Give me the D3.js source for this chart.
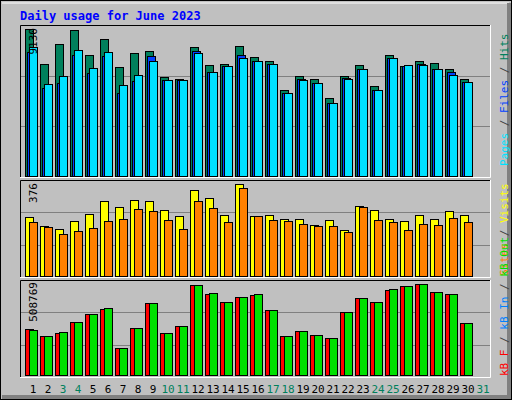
<!DOCTYPE html><html><head><meta charset="utf-8">
<script src="https://cdn.jsdelivr.net/npm/d3@7"></script>
<style>body{margin:0;background:#fff}</style></head><body><svg id="c" width="512" height="400"></svg>
<script>
const days=d3.range(1,32);
const weekend=[3,4,10,11,17,18,24,25,31];
const hits=[9130,6956,8199,9068,7515,8509,6770,7640,7764,6149,6025,8012,6894,6956,8074,7391,7143,5341,6211,6025,4845,6211,6894,5590,7515,6832,7143,7018,6646,6025];
const files=[7702,5466,5776,7515,6397,7453,5155,5900,7453,5963,5963,7764,6459,6832,7515,7143,6956,5155,6025,5776,4534,6087,6646,5341,7329,6832,6956,6646,6459,5838];
const pages=[8012,5714,6211,7826,6708,7702,5652,6273,7143,5963,5963,7640,6459,6832,7329,7143,6956,5155,5963,5776,4534,6025,6646,5341,7329,6894,6894,6646,6273,5838];
const visits=[241,204,192,225,253,307,282,311,307,270,245,351,319,249,376,245,249,233,233,208,229,188,286,270,233,225,249,233,266,249];
const sites=[221,200,172,184,196,225,233,274,266,229,192,307,278,221,360,245,229,225,213,204,204,180,282,229,221,188,213,208,237,221];
const kbF=[258095,217246,233957,297088,339794,367646,150401,261809,401069,233957,272950,501336,453059,406640,434491,445632,362076,217246,245098,222816,206105,352792,428921,406640,473484,495766,508769,462343,451202,289661];
const kbOut=[250668,217246,239527,297088,339794,373216,150401,261809,401069,233957,272950,501336,456773,406640,434491,451202,362076,217246,245098,222816,206105,352792,428921,406640,479054,495766,508769,462343,451202,289661];
const svg=d3.select("#c");
const mono="'DejaVu Sans Mono',monospace";
svg.append("rect").attr("x",0).attr("y",0).attr("width",512).attr("height",400).attr("fill","#c0c0c0");
svg.append("rect").attr("x",0.5).attr("y",0.5).attr("width",511).attr("height",399).attr("fill","none").attr("stroke","#000");
svg.append("path").attr("d","M2,3H509V396H2").attr("fill","none").attr("stroke","#fff");
svg.append("path").attr("d","M509,3V397H2").attr("fill","none").attr("stroke","#808080").attr("stroke-width",4);
svg.append("text").attr("x",20).attr("y",20).attr("fill","#0000ff").attr("font-family",mono).attr("font-weight","bold").attr("font-size",12).text("Daily usage for June 2023");
const x=d3.scaleBand().domain(days).range([23,488]).paddingInner(0);
function panel(y0,y1){
  svg.append("path").attr("d",`M20.5,${y1}V${y0+.5}H490.5`).attr("fill","none").attr("stroke","#000");
  svg.append("path").attr("d",`M490.5,${y0}V${y1+.5}H20`).attr("fill","none").attr("stroke","#fff");
  [1/3,2/3].forEach(f=>{const yy=Math.round(y1-(y1-y0)*f)+.5;
    svg.append("line").attr("x1",21).attr("x2",490).attr("y1",yy).attr("y2",yy).attr("stroke","#808080");});
}
function bars(data,max,yb,ytop,off,col){
  const y=d3.scaleLinear().domain([0,max]).range([yb,ytop]);
  svg.append("g").selectAll("rect").data(data).join("rect")
   .attr("x",(d,i)=>x(i+1)+2+off+.5).attr("y",d=>Math.round(y(d))+.5).attr("width",8).attr("height",d=>yb-Math.round(y(d)))
   .attr("fill",col).attr("stroke","#000");
}
panel(25,177);
bars(hits,9130,176,29,0,"#00805c");
bars(files,9130,176,29,2,"#0040ff");
bars(pages,9130,176,29,4,"#00e0ff");
panel(180,277);
bars(visits,376,276,184,0,"#ffff00");
bars(sites,376,276,184,4,"#ff8000");
panel(280,377);
bars(kbF,508769,375,284,0,"#ff0000");
bars(kbOut,508769,375,284,4,"#00e000");
function ylab(t,y){svg.append("text").attr("transform",`translate(37,${y}) rotate(-90)`).attr("font-family",mono).attr("font-size",11).attr("fill","#000").attr("text-anchor","end").text(t);}
ylab("9130",28);ylab("376",183);ylab("508769",282);
function rlab(parts,y){const t=svg.append("text").attr("transform",`translate(508,${y}) rotate(-90)`).attr("font-family",mono).attr("font-size",11);
  parts.forEach(p=>t.append("tspan").attr("fill",p[1]).text(p[0]));}
rlab([["Pages","#00e0ff"],[" / ","#404040"],["Files","#0040ff"],[" / ","#404040"],["Hits","#00805c"]],166);
rlab([["Sites","#ff8000"],[" / ","#404040"],["Visits","#ffff00"]],276);
rlab([["kB F","#ff0000"],[" / ","#404040"],["kB In","#0080ff"],[" / ","#404040"],["kB Out","#00e000"]],376);
svg.append("g").selectAll("text").data(days).join("text").attr("x",d=>x(d)+10).attr("y",393).attr("text-anchor","middle")
 .attr("font-family",mono).attr("font-size",11).attr("fill",d=>weekend.includes(d)?"#00805c":"#000").text(d=>d);
</script></body></html>
